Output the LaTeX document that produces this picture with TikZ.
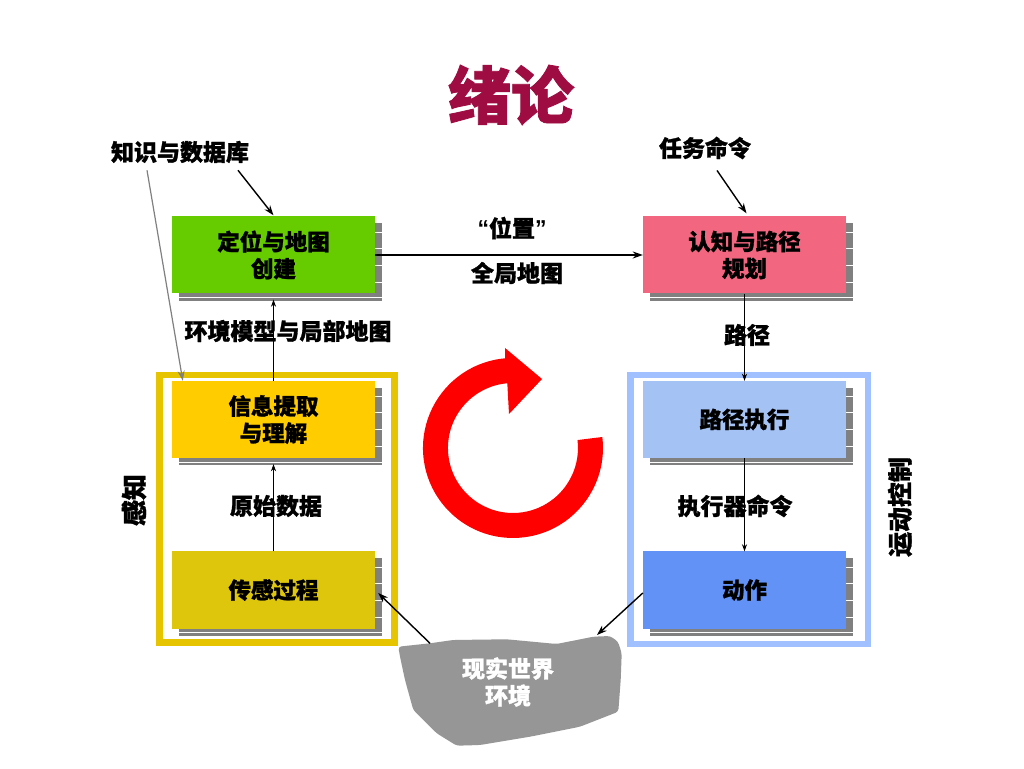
\documentclass[tikz,border=0pt]{standalone}
\usepackage{fontspec}
\setmainfont{Noto Sans CJK SC}[BoldFeatures={FakeBold=1.2}]
\newfontfamily\latinf{Liberation Sans}
\usetikzlibrary{arrows.meta,backgrounds}
\definecolor{titlec}{RGB}{158,12,65}
\definecolor{cgreen}{RGB}{102,204,0}
\definecolor{cpink}{RGB}{242,102,128}
\definecolor{cyel}{RGB}{255,204,0}
\definecolor{colive}{RGB}{222,198,12}
\definecolor{cltblue}{RGB}{164,194,244}
\definecolor{cblue}{RGB}{98,146,246}
\definecolor{fyel}{RGB}{230,196,0}
\definecolor{fblue}{RGB}{160,192,255}
\definecolor{shadowc}{RGB}{128,128,128}
\definecolor{blobc}{RGB}{150,150,150}
\begin{document}
\begin{tikzpicture}[x=1pt,y=1pt,
  box/.style={minimum width=203pt,minimum height=77pt,inner sep=0pt,align=center,
    font=\bfseries\fontsize{22.5}{27}\selectfont},
  lab/.style={inner sep=0pt,align=center,font=\bfseries\fontsize{23}{27}\selectfont},
  arr/.style={-{Stealth[length=10pt,width=7pt]},line width=1.4pt},
  thinarr/.style={-{Stealth[length=7pt,width=5pt]},line width=0.8pt},
  frame/.style={line width=6.5pt}]
\useasboundingbox (0,0) rectangle (1024,768);
% title
\node[lab,text=titlec,font=\bfseries\fontsize{63}{70}\selectfont] (title) at (511,673) {绪论};
% boxes
\node[box,fill=cgreen] (loc) at (273.5,513) {定位与地图\\创建};
\node[box,fill=cpink] (cog) at (744.5,513) {认知与路径\\规划};
\node[box,fill=cyel] (inf) at (273.5,348.5) {信息提取\\与理解};
\node[box,fill=colive] (sen) at (273.5,178) {传感过程};
\node[box,fill=cltblue] (pex) at (744.5,348.5) {路径执行};
\node[box,fill=cblue] (act) at (744.5,178) {动作};
% frames
\draw[frame,fyel] (159.7,125.3) rectangle (394.3,393);
\draw[frame,fblue] (630.7,124) rectangle (868,393);
% side labels
\node[lab,rotate=90,font=\bfseries\fontsize{26}{30}\selectfont] (perc) at (134,268) {感知};
\node[lab,rotate=90,font=\bfseries\fontsize{25}{30}\selectfont] (mctl) at (900,261) {运动控制};
% labels
\node[lab] (kdb) at (180,616) {知识与数据库};
\node[lab] (task) at (705,620) {任务命令};
\node[lab] (pos) at (512,540) {{\latinf “}位置{\latinf ”}};
\node[lab] (gmap) at (517,495) {全局地图};
\node[lab] (envm) at (288,437) {环境模型与局部地图};
\node[lab] (path) at (747,433) {路径};
\node[lab] (raw) at (276,262) {原始数据};
\node[lab] (acmd) at (735,262) {执行器命令};
% real world blob
\fill[blobc,rounded corners=3pt] (398.3,121.3) -- (430,124.7) -- (453,128) -- (506.7,128.7) -- (556.7,124)
  -- (593.3,131.3) -- (610,132) -- (618,126.3) -- (621.7,114.7) -- (620.7,88) -- (618.3,56.3)
  -- (580,41.3) -- (530,31.3) -- (480,23) -- (456.7,22.3) -- (436.7,34.7) -- (413.3,58)
  -- (405,88) -- (400,111.3) -- cycle;
\node[lab,text=white] (world) at (508,86) {现实世界\\环境};
\coordinate (blobA) at (430,124.7);
\coordinate (blobB) at (597,133);
% red cycle arrow
\fill[red] (602.3,331.0) arc[start angle=7,end angle=-265,radius=90]
  -- (505,420) -- (542,389) -- (509,354) -- (507.3,384.75)
  arc[start angle=95,end angle=367,radius=65] -- cycle;
% connectors
\draw[arr] (loc.east) -- (cog.west);
\draw[thinarr] (inf.north) -- ([yshift=-6]loc.south);
\draw[thinarr] (sen.north) -- ([yshift=-6]inf.south);
\draw[thinarr] (cog.south) -- (pex.north);
\draw[thinarr] (pex.south) -- (act.north);
\draw[arr] (blobA) -- ([xshift=3,yshift=-3]sen.east);
\draw[arr] ([yshift=-3]act.west) -- (blobB);
\draw[arr] ([xshift=58,yshift=-7]kdb.south) -- ([yshift=1]loc.north);
\draw[arr] ([xshift=12,yshift=-11]task.south) -- ([xshift=2,yshift=3]cog.north);
\draw[-{Stealth[length=10pt,width=7pt]},line width=1.2pt,shadowc] ([xshift=-33,yshift=-7]kdb.south) -- ([xshift=11]inf.north west);
% shadows
\begin{pgfonlayer}{background}
\fill[white] (0,0) rectangle (1024,768);
\foreach \n in {loc,cog,inf,sen,pex,act} {
  \fill[shadowc] ([shift={(7,-7)}]\n.south west) rectangle ([shift={(7,-7)}]\n.north east);
  \draw[white,line width=1pt] ([shift={(7,-4)}]\n.south west) -- ([shift={(7,-4)}]\n.south east);
  \foreach \t in {16,32,49,66} {
    \draw[white,line width=1pt] ([shift={(0,-\t)}]\n.north east) -- ([shift={(7,-\t)}]\n.north east);
  }
}
\end{pgfonlayer}
\end{tikzpicture}
\end{document}
